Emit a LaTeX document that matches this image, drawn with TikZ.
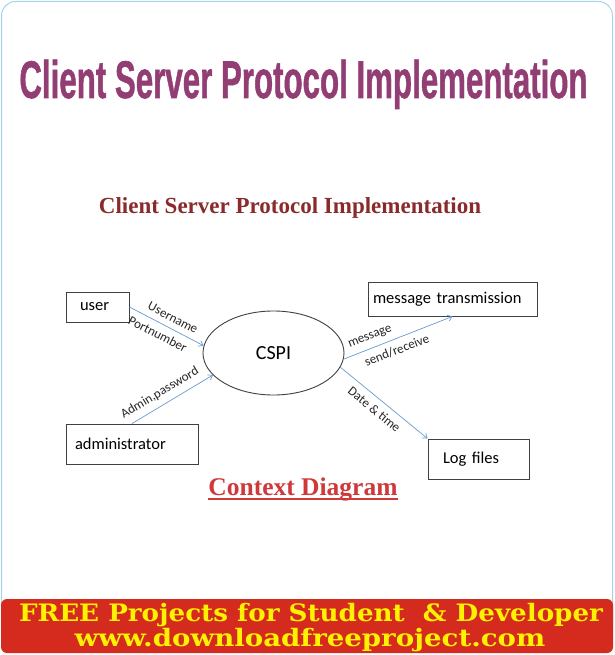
\documentclass[tikz,border=0pt]{standalone}
\usepackage{fontspec}
\usetikzlibrary{shapes.geometric,arrows.meta}

\newfontfamily\calfont{Carlito}
\newfontfamily\timesfont{Liberation Serif}
\newfontfamily\titlefont[FakeBold=1.2]{Liberation Sans}
\newfontfamily\bannerfont{DejaVu Serif}

\definecolor{titlepurple}{HTML}{923E74}
\definecolor{subred}{HTML}{8A2B2B}
\definecolor{ctxred}{HTML}{D0393A}
\definecolor{flowblue}{HTML}{6B9BD0}
\definecolor{frameblue}{HTML}{A6D6E6}
\definecolor{bannerred}{HTML}{D52B1E}
\definecolor{banneryellow}{HTML}{FFF200}

\begin{document}
\begin{tikzpicture}[x=1pt,y=-1pt,
  entity/.style={draw=black!75,line width=0.9pt,align=left,font=\calfont\fontsize{16.5}{18}\selectfont},
  flow/.style={draw=flowblue,line width=0.7pt,-{Straight Barb[length=4pt,width=6pt]}},
  flowlabel/.style={sloped,text=black!85,font=\calfont\fontsize{13}{15}\selectfont,inner sep=6pt}]
\useasboundingbox (0,0) rectangle (614,655);
\fill[white] (0,0) rectangle (614,655);
\draw[frameblue,line width=1pt,rounded corners=14pt] (1.5,1.5) rectangle (612.5,640);

% headings
\node[anchor=base,inner sep=0,text=titlepurple,font=\titlefont\bfseries\fontsize{53}{60}\selectfont] (title) at (303.5,98) {\scalebox{0.59}[1]{Client Server Protocol Implementation}};
\node[anchor=base,inner sep=0,text=subred,font=\timesfont\bfseries\fontsize{23}{26}\selectfont] (sub) at (290,213) {Client Server Protocol Implementation};

% context diagram
\node[entity,text width=35pt,inner xsep=14pt,minimum height=30pt] (user) at (97.5,307) {user};
\node[entity,text width=114pt,inner xsep=9pt,minimum height=40pt] (admin) at (132,444) {administrator};
\node[entity,text width=159pt,inner xsep=5pt,minimum height=34pt] (msg) at (452.5,299) {message transmission};
\node[entity,text width=71pt,inner xsep=15pt,minimum height=40pt] (log) at (478.5,459) {Log files};
\node[draw=black!75,line width=0.9pt,ellipse,minimum width=141pt,minimum height=84pt,font=\calfont\fontsize{20}{22}\selectfont] (cspi) at (273.5,353) {CSPI};

\draw[flow] (user.east) -- (cspi.174) node[flowlabel,pos=0.52,above]{Username} node[flowlabel,pos=0.45,below]{Portnumber};
\draw[flow] (admin.north) -- (cspi.200) node[flowlabel,pos=0.42,above]{Admin,password};
\draw[flow] (cspi.355) -- (msg.south) node[flowlabel,pos=0.28,above]{message} node[flowlabel,pos=0.45,below]{send/receive};
\draw[flow] (cspi.348) -- (log.north west) node[flowlabel,pos=0.47,below]{Date \& time};

\node[anchor=base,inner sep=0,text=ctxred,font=\timesfont\bfseries\fontsize{25.5}{28}\selectfont] (ctx) at (303,495) {Context Diagram};
\draw[ctxred,line width=1.3pt] ([yshift=-4pt]ctx.base west) -- ([yshift=-4pt]ctx.base east);

% banner
\fill[bannerred,rounded corners=6pt] (1,599) rectangle (613,653);
\node[anchor=base,inner sep=0,text=banneryellow,font=\bannerfont\bfseries\fontsize{24}{26}\selectfont] (free) at (311,621) {\scalebox{1.09}[1]{FREE Projects for Student\ \ \& Developer}};
\node[anchor=base,inner sep=0,text=banneryellow,font=\bannerfont\bfseries\fontsize{24}{26}\selectfont] (www) at (310,646) {\scalebox{1.15}[1]{www.downloadfreeproject.com}};

\end{tikzpicture}
\end{document}
